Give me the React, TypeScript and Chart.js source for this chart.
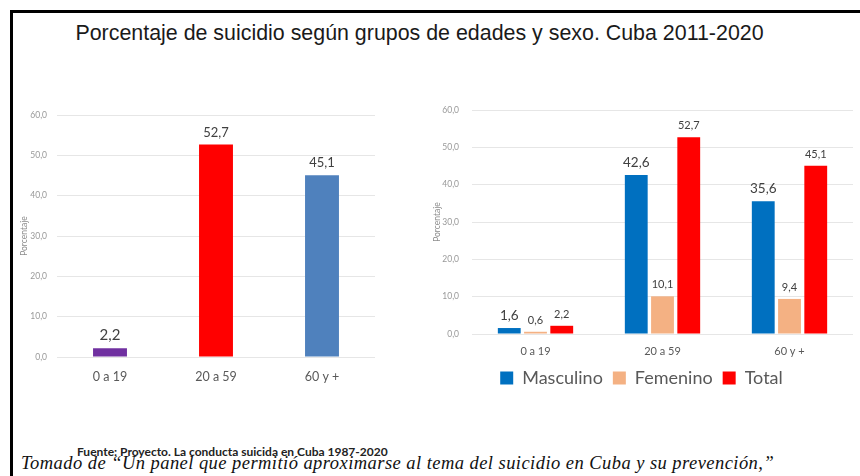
import React, { useEffect, useRef } from "react";
import { Chart, registerables } from "chart.js";

Chart.register(...registerables);

// ---------- data ----------
const TITLE = "Porcentaje de suicidio según grupos de edades y sexo. Cuba 2011-2020";
const AGE_GROUPS = ["0 a 19", "20 a 59", "60 y +"];
const TOTAL_BY_AGE = [2.2, 52.7, 45.1];
const SERIES_NAMES = ["Masculino", "Femenino", "Total"];
const MASCULINO = [1.6, 42.6, 35.6];
const FEMENINO = [0.6, 10.1, 9.4];
const TOTAL = [2.2, 52.7, 45.1];
const Y_MIN = 0;
const Y_MAX = 60;
const Y_STEP = 10;
const Y_TITLE = "Porcentaje";
const SOURCE = "Fuente: Proyecto. La conducta suicida en Cuba 1987-2020";
const CAPTION =
  "Tomado de \u201CUn panel que permitió aproximarse al tema del suicidio en Cuba y su prevención,\u201D";

// ---------- styles ----------
const LEFT_COLORS = ["#7030A0", "#FF0000", "#4F81BD"];
const SERIES_COLORS = ["#0070C0", "#F4B183", "#FF0000"];
const CHART_FONT = "Lato";
const GRID_COLOR = "#e6e6e6";
const TICK_COLOR = "#999999";
const LABEL_COLOR = "#404040";
const AXIS_LABEL_COLOR = "#595959";

const fmt = (v: number) => Number(v).toFixed(1).replace(".", ",");

const valueLabels = {
  id: "valueLabels",
  afterDatasetsDraw(chart: any, _args: any, opts: any) {
    const ctx = chart.ctx;
    ctx.save();
    ctx.textAlign = "center";
    ctx.textBaseline = "alphabetic";
    ctx.fillStyle = opts.color || LABEL_COLOR;
    chart.data.datasets.forEach((ds: any, di: number) => {
      const meta = chart.getDatasetMeta(di);
      meta.data.forEach((el: any, i: number) => {
        const size = opts.size(di, i);
        ctx.font = `${size}px ${CHART_FONT}`;
        ctx.fillText(fmt(ds.data[i]), el.x, el.y - (opts.offset ?? 8));
      });
    });
    ctx.restore();
  },
};

function yAxis(width: number, titlePad: number, tickPad: number) {
  return {
    min: Y_MIN,
    max: Y_MAX,
    ticks: {
      stepSize: Y_STEP,
      callback: (v: any) => fmt(v),
      color: TICK_COLOR,
      font: { family: CHART_FONT, size: 8.5 },
      padding: tickPad,
    },
    grid: { color: GRID_COLOR, drawTicks: false, lineWidth: 1 },
    border: { display: false },
    title: {
      display: true,
      text: Y_TITLE,
      color: "#8c8c8c",
      font: { family: CHART_FONT, size: 8.5 },
      padding: { top: titlePad, bottom: 0 },
    },
    afterFit: (s: any) => {
      s.width = width;
    },
  };
}

function LeftChart() {
  const ref = useRef<HTMLCanvasElement>(null);
  useEffect(() => {
    const chart = new Chart(ref.current as HTMLCanvasElement, {
      type: "bar",
      data: {
        labels: AGE_GROUPS,
        datasets: [
          {
            data: TOTAL_BY_AGE,
            backgroundColor: LEFT_COLORS,
            barPercentage: 0.32,
            categoryPercentage: 1,
          },
        ],
      },
      options: {
        animation: false,
        responsive: false,
        maintainAspectRatio: false,
        layout: { padding: { left: 0, right: 5, top: 0, bottom: 0 } },
        plugins: {
          legend: { display: false },
          tooltip: { enabled: false },
          valueLabels: {
            size: (_di: number, i: number) => (i === 0 ? 15 : 13),
            offset: 8,
          },
        } as any,
        scales: {
          x: {
            grid: { display: false, drawTicks: false },
            border: { display: false },
            ticks: {
              color: AXIS_LABEL_COLOR,
              font: { family: CHART_FONT, size: 12.5 },
              padding: 12,
            },
            afterFit: (s: any) => {
              s.height = 35;
            },
          },
          y: yAxis(42, 4, 10),
        } as any,
      },
      plugins: [valueLabels],
    });
    return () => chart.destroy();
  }, []);
  return (
    <canvas
      ref={ref}
      width={365}
      height={292}
      style={{ position: "absolute", left: 15, top: 100, width: 365, height: 292 }}
    />
  );
}

function RightChart() {
  const ref = useRef<HTMLCanvasElement>(null);
  useEffect(() => {
    const seriesData = [MASCULINO, FEMENINO, TOTAL];
    const chart = new Chart(ref.current as HTMLCanvasElement, {
      type: "bar",
      data: {
        labels: AGE_GROUPS,
        datasets: SERIES_NAMES.map((name, k) => ({
          label: name,
          data: seriesData[k],
          backgroundColor: SERIES_COLORS[k],
          barPercentage: 0.87,
          categoryPercentage: 0.62,
        })),
      },
      options: {
        animation: false,
        responsive: false,
        maintainAspectRatio: false,
        layout: { padding: { left: 0, right: 4, top: 0, bottom: 0 } },
        plugins: {
          legend: {
            display: true,
            position: "bottom",
            labels: {
              boxWidth: 13,
              boxHeight: 13,
              padding: 10,
              color: AXIS_LABEL_COLOR,
              font: { family: CHART_FONT, size: 18 },
            },
          },
          tooltip: { enabled: false },
          valueLabels: {
            size: (di: number) => (di === 0 ? 13.5 : 11),
            offset: 8,
          },
        } as any,
        scales: {
          x: {
            grid: { display: false, drawTicks: false },
            border: { display: false },
            ticks: {
              color: AXIS_LABEL_COLOR,
              font: { family: CHART_FONT, size: 11 },
              padding: 11,
            },
            afterFit: (s: any) => {
              s.height = 25;
            },
          },
          y: yAxis(42, 2, 13),
        } as any,
      },
      plugins: [valueLabels],
    });
    return () => chart.destroy();
  }, []);
  return (
    <canvas
      ref={ref}
      width={427}
      height={305}
      style={{ position: "absolute", left: 430, top: 92, width: 427, height: 305 }}
    />
  );
}

export default function App() {
  return (
    <div
      style={{
        position: "absolute",
        left: 0,
        top: 0,
        width: 860,
        height: 476,
        overflow: "hidden",
        background: "#ffffff",
      }}
    >
      <div
        style={{
          position: "absolute",
          left: 10,
          top: 10,
          width: 900,
          height: 520,
          borderTop: "3px solid #000",
          borderLeft: "3px solid #000",
        }}
      />
      <div
        style={{
          position: "absolute",
          left: 0,
          top: 22,
          width: 839,
          textAlign: "center",
          fontFamily: "'Liberation Sans', Arial, sans-serif",
          fontSize: 21.4,
          lineHeight: "22px",
          color: "#1a1a1a",
          whiteSpace: "nowrap",
        }}
      >
        {TITLE}
      </div>
      <LeftChart />
      <RightChart />
      <div
        style={{
          position: "absolute",
          left: 77,
          top: 445,
          fontFamily: "Lato, sans-serif",
          fontWeight: 700,
          fontSize: 12,
          lineHeight: "14px",
          color: "#222",
          whiteSpace: "nowrap",
        }}
      >
        {SOURCE}
      </div>
      <div
        style={{
          position: "absolute",
          left: 21,
          top: 453,
          fontFamily: "'Liberation Serif', 'Times New Roman', serif",
          fontStyle: "italic",
          fontSize: 18.5,
          letterSpacing: 0.45,
          lineHeight: "20px",
          color: "#111",
          whiteSpace: "nowrap",
        }}
      >
        {CAPTION}
      </div>
    </div>
  );
}
